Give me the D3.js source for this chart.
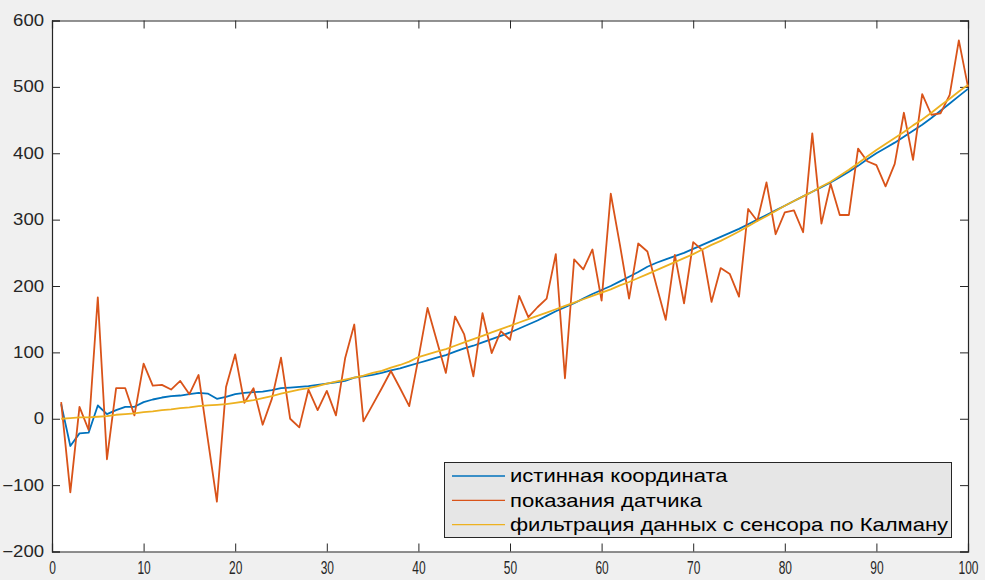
<!DOCTYPE html>
<html><head><meta charset="utf-8">
<script src="https://cdn.jsdelivr.net/npm/d3@7"></script>
<style>
html,body{margin:0;padding:0;background:#f0f0f0;}
svg{display:block;}
</style></head>
<body><svg id="chart" width="985" height="580"></svg>
<script>
const xValues = d3.range(1, 101);
const trueCoord = [22,-41,-22,-21,20,7,13,18,18,25,29,32,34,35,37,39,38,30,33,37,39,40,41,43,46,
 47,48,49,51,53,55,57,62,64,66,69,73,76,80,84,88,92,96,101,106,110,115,120,125,130,
 136,142,148,155,162,168,174,181,188,194,200,207,214,221,229,235,240,245,250,256,262,268,274,280,286,
 293,300,307,314,321,328,335,342,349,356,364,372,381,391,400,408,416,425,434,443,453,464,475,486,497];
const sensor = [25,-111,18,-17,183,-61,46,46,5,83,50,51,44,57,37,66,-30,-125,48,97,24,46,-9,30,92,
 0,-13,44,13,42,5,91,142,-4,21,46,72,46,19,91,167,118,69,154,127,64,159,99,132,119,
 185,153,168,181,248,61,240,225,255,178,339,262,181,264,252,200,149,247,174,266,254,176,227,218,184,
 316,298,356,278,311,314,281,430,294,354,307,307,407,388,382,350,384,461,390,489,458,460,488,570,500];
const kalman = [0,1,2,2,3,4,6,7,8,10,11,13,14,16,17,19,20,21,22,24,26,28,31,34,38,
 41,44,46,49,53,56,59,62,65,69,72,77,81,86,93,97,101,105,110,115,120,125,130,135,140,
 145,150,155,160,165,170,175,180,185,190,195,201,206,212,218,224,230,236,242,248,255,262,268,275,282,
 290,298,305,313,321,328,335,342,350,357,366,375,385,395,405,414,423,432,442,451,461,472,482,493,503];
const xTicks = d3.range(0, 101, 10);
const yTicks = d3.range(-200, 601, 100);
const seriesNames = ["истинная координата", "показания датчика", "фильтрация данных с сенсора по Калману"];
const seriesColors = ["#0072BD", "#D95319", "#EDB120"];

const svg = d3.select("#chart");
const L = 52, T = 20.5, W = 916, H = 531;
const x = d3.scaleLinear().domain([0, 100]).range([L, L + W]);
const y = d3.scaleLinear().domain([-200, 600]).range([T + H, T]);
const ink = "#262626";
const font = "'Liberation Sans', Arial, sans-serif";

svg.append("rect").attr("x", L).attr("y", T).attr("width", W).attr("height", H).attr("fill", "#fff");

// axes
const tickLen = 8;
const xAxisB = svg.append("g").attr("transform", `translate(0,${T + H})`)
  .call(d3.axisBottom(x).tickValues(xTicks).tickSize(-tickLen).tickPadding(9).tickFormat(d3.format("d")));
const xAxisT = svg.append("g").attr("transform", `translate(0,${T})`)
  .call(d3.axisTop(x).tickValues(xTicks).tickSize(-tickLen).tickFormat(""));
const yAxisL = svg.append("g").attr("transform", `translate(${L},0)`)
  .call(d3.axisLeft(y).tickValues(yTicks).tickSize(-tickLen).tickPadding(8).tickFormat(d3.format("d")));
const yAxisR = svg.append("g").attr("transform", `translate(${L + W},0)`)
  .call(d3.axisRight(y).tickValues(yTicks).tickSize(-tickLen).tickFormat(""));
[xAxisB, xAxisT, yAxisL, yAxisR].forEach(g => {
  g.selectAll("path.domain").attr("stroke", ink).attr("stroke-width", 1.2);
  g.selectAll(".tick line").attr("stroke", ink).attr("stroke-width", 1);
  g.selectAll("text").attr("fill", ink).style("font-family", font).style("font-size", "16px");
});
xAxisB.selectAll(".tick text").style("font-size", "19px").attr("transform", "scale(0.63,1)");
yAxisL.selectAll(".tick text").attr("transform", "scale(1.16,1)").attr("x", -8 / 1.16);

// lines
const line = d3.line().x((d, i) => x(xValues[i])).y(d => y(d));
const data = [trueCoord, sensor, kalman];
data.forEach((s, k) => {
  svg.append("path").datum(s).attr("d", line).attr("fill", "none")
    .attr("stroke", seriesColors[k]).attr("stroke-width", 1.8).attr("stroke-linejoin", "round");
});

// legend
const lg = svg.append("g");
lg.append("rect").attr("x", 444.5).attr("y", 462.5).attr("width", 507).attr("height", 75)
  .attr("fill", "#e6e6e6").attr("stroke", ink).attr("stroke-width", 1);
seriesNames.forEach((n, i) => {
  const yy = 476 + i * 24.3;
  lg.append("line").attr("x1", 452).attr("x2", 505).attr("y1", yy).attr("y2", yy)
    .attr("stroke", seriesColors[i]).attr("stroke-width", 1.3);
  lg.append("text").attr("transform", `translate(510,${yy}) scale(1.19,1)`).attr("dy", "0.35em")
    .attr("fill", "#000").style("font-family", font).style("font-size", "18.5px").text(n);
});
</script></body></html>
